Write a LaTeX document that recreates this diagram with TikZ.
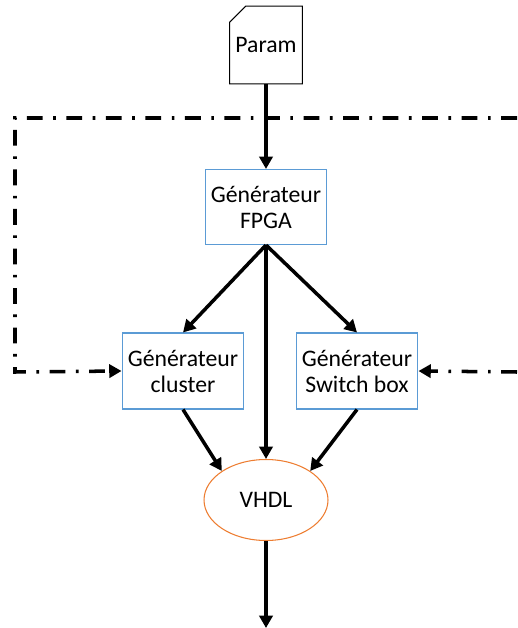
\documentclass[tikz,border=0pt]{standalone}
\usepackage{fontspec}
\setmainfont{Carlito}
\usepackage{tikz}
\usetikzlibrary{arrows.meta, positioning, calc, shapes.geometric}

\definecolor{boxblue}{HTML}{5B9BD5}
\definecolor{vhdlorange}{HTML}{ED7D31}

\begin{document}
\begin{tikzpicture}[x=0.02cm, y=-0.02cm,
    gen/.style={draw=boxblue, line width=0.6pt, align=center, minimum width=2.36cm, minimum height=1.5cm, font=\fontsize{13.5}{14.8}\selectfont},
    flow/.style={line width=2pt, -{Triangle[length=7pt, width=7.5pt]}},
    loop/.style={flow, dash pattern=on 9pt off 6pt on 1.5pt off 6pt}]
    \useasboundingbox (0,0) rectangle (517,628);

    \node[inner sep=0pt, minimum width=1.44cm, minimum height=1.54cm, font=\fontsize{13.5}{14.8}\selectfont] (param) at (266,45) {Param};
    \draw[line width=0.6pt] (param.south west) -- (param.south east) -- (param.north east)
        -- ([xshift=0.32cm]param.north west) -- ([yshift=-0.32cm]param.north west) -- cycle;
    \node[gen] (fpga) at (266,207) {Générateur\\FPGA};
    \node[gen, minimum width=2.38cm, minimum height=1.52cm] (cluster) at (183,371) {Générateur\\cluster};
    \node[gen, minimum width=2.34cm, minimum height=1.52cm] (switch) at (357,371) {Générateur\\Switch box};
    \node[draw=vhdlorange, line width=0.6pt, ellipse, minimum width=2.48cm, minimum height=1.62cm,
          font=\fontsize{13.5}{14.8}\selectfont] (vhdl) at (266,500) {VHDL};

    % feedback loops
    \coordinate (tr) at (517,118);
    \coordinate (tl) at (15,118);
    \coordinate (bl) at (15,372);
    \coordinate (br) at (517,372);
    \coordinate (out) at (266,628);

    \draw[flow] (param) -- (fpga);
    \draw[flow] (fpga.south) -- (cluster.north);
    \draw[flow] (fpga.south) -- (switch.north);
    \draw[flow] (fpga.south) -- (vhdl.north);
    \draw[flow] (cluster.south) -- (vhdl.north west);
    \draw[flow] (switch.south) -- (vhdl.north east);
    \draw[flow] (vhdl.south) -- (out);
    \draw[loop] (tr) -- (tl) -- (bl) -- (cluster.west);
    \draw[loop] (br) -- (switch.east);
\end{tikzpicture}
\end{document}
